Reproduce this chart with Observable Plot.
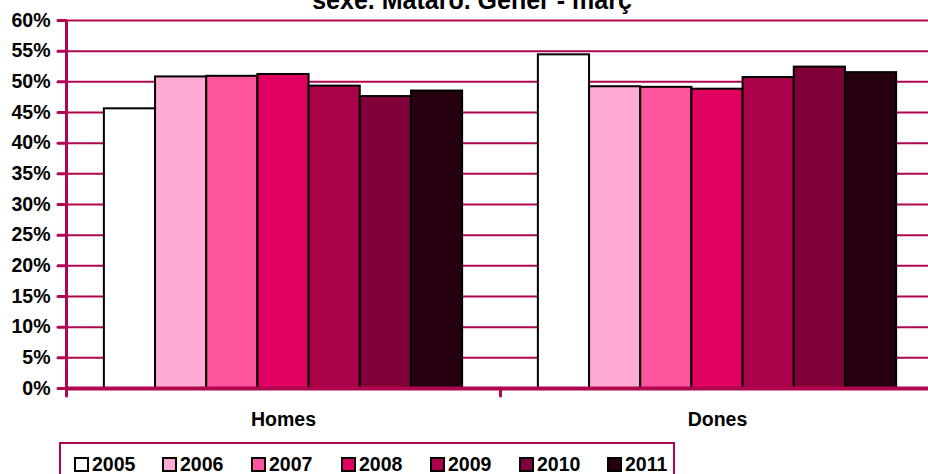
<!DOCTYPE html>
<html>
<head>
<meta charset="utf-8">
<script src="https://cdn.jsdelivr.net/npm/d3@7"></script>
<script src="https://cdn.jsdelivr.net/npm/@observablehq/plot@0.6"></script>
<style>
  html, body { margin: 0; padding: 0; background: #fff; }
  #wrap { position: relative; width: 928px; height: 474px; overflow: hidden; font-family: "Liberation Sans", Arial, sans-serif; font-weight: bold; }
  #title { position: absolute; left: 0; width: 944px; top: -12px; text-align: center; font-size: 25px; line-height: 25px; color: #000; white-space: nowrap; }
  #chart { position: absolute; left: 0; top: 0; }
  #legend { position: absolute; left: 59px; top: 442px; width: 616px; height: 40px; border: 2px solid #B0064F; box-sizing: border-box; }
  .item { position: absolute; top: 9px; display: flex; align-items: center; font-size: 19.5px; line-height: 22px; color: #000; }
  .sw { width: 11px; height: 11px; border: 2px solid #000; margin-right: 3px; }
</style>
</head>
<body>
<div id="wrap">
  <div id="chart"></div>
  <div id="title">sexe. Mataró. Gener - març</div>
  <div id="legend"></div>
</div>
<script>
// ---- data ----
const categories = ["Homes", "Dones"];
const years = ["2005", "2006", "2007", "2008", "2009", "2010", "2011"];
const homes = [45.6, 50.8, 50.9, 51.2, 49.3, 47.6, 48.5];
const dones = [54.4, 49.2, 49.1, 48.8, 50.7, 52.4, 51.5];
const colors = ["#FFFFFF", "#FFAAD4", "#FF559F", "#E0005F", "#AB004A", "#80003A", "#260010"];
const yTicks = [0, 5, 10, 15, 20, 25, 30, 35, 40, 45, 50, 55, 60];

const crimson = "#B0064F";
const xPad = 0.74; // outer padding of each group, in bar widths

const series = {Homes: homes, Dones: dones};
const data = categories.flatMap(c => years.map((y, i) => ({cat: c, year: y, idx: i, value: series[c][i]})));

const plot = Plot.plot({
  width: 928,
  height: 474,
  marginTop: 20,
  marginBottom: 86,
  marginLeft: 66,
  marginRight: -6,
  style: {fontFamily: "'Liberation Sans', Arial, sans-serif", background: "transparent"},
  fx: {domain: categories, padding: 0, label: null},
  x: {domain: [-xPad, years.length + xPad], axis: null},
  y: {domain: [0, 60], axis: null},
  color: {domain: years, range: colors},
  marks: [
    Plot.ruleY(yTicks.filter(d => d > 0), {stroke: crimson, strokeWidth: 2}),
    Plot.rectY(data, {fx: "cat", x1: "idx", x2: d => d.idx + 1, y: "value", fill: "year", stroke: "#000", strokeWidth: 2}),
    Plot.ruleY([0], {stroke: crimson, strokeWidth: 4}),
    Plot.ruleX([-xPad], {y1: -1.3, y2: 0, stroke: crimson, strokeWidth: 3, strokeLinecap: "round"}),
    Plot.ruleX([-xPad], {y1: -1.2, y2: 60, stroke: crimson, strokeWidth: 3, facetAnchor: "left"}),
    Plot.axisY(yTicks, {
      tickFormat: d => d + "%",
      tickSize: 8, tickPadding: 8,
      stroke: crimson, strokeWidth: 3, strokeLinecap: "round",
      fill: "#000", fontSize: 19.5, fontWeight: "bold", label: null
    }),
    Plot.axisFx({anchor: "bottom", tickSize: 0, tickPadding: 24, fontSize: 19.5, fontWeight: "bold", fill: "#000", label: null})
  ]
});
document.getElementById("chart").appendChild(plot);

// ---- legend ----
const legend = document.getElementById("legend");
const legendLeft = [13, 101, 190, 280, 369, 458, 546];
years.forEach((y, i) => {
  const it = document.createElement("div");
  it.className = "item";
  it.style.left = legendLeft[i] + "px";
  const sw = document.createElement("div");
  sw.className = "sw";
  sw.style.background = colors[i];
  const t = document.createElement("span");
  t.textContent = y;
  it.appendChild(sw);
  it.appendChild(t);
  legend.appendChild(it);
});
</script>
</body>
</html>
